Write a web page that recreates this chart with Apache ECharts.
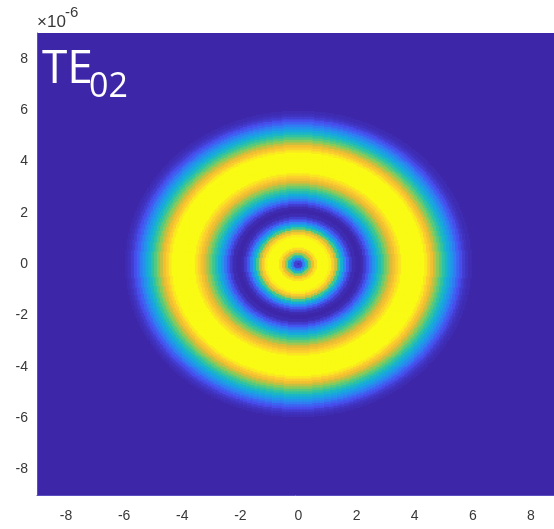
<!DOCTYPE html>
<html>
<head>
<meta charset="utf-8">
<script src="https://cdn.jsdelivr.net/npm/echarts@6/dist/echarts.min.js"></script>
<style>
html,body{margin:0;padding:0;background:#fff;overflow:hidden;}
#chart{width:554px;height:529px;}
</style>
</head>
<body>
<div id="chart"></div>
<script>
// Radial intensity profile of the TE02 mode
// sampled every 0.1 (x1e-6) from r = 0 outward; beyond the last sample the field is 0.
var radiusStep = 0.1;
var radialProfile = [
  0.00, 0.08, 0.25, 0.42, 0.62, 0.78, 0.92, 1.00, 1.00, 1.00,
  1.00, 0.96, 0.85, 0.70, 0.52, 0.38, 0.26, 0.15, 0.07, 0.02,
  0.00, 0.00, 0.02, 0.07, 0.14, 0.22, 0.30, 0.37, 0.44, 0.51,
  0.58, 0.65, 0.73, 0.80, 0.88, 0.94, 1.00, 1.00, 1.00, 1.00,
  1.00, 1.00, 1.00, 1.00, 0.95, 0.87, 0.79, 0.70, 0.62, 0.55,
  0.48, 0.41, 0.35, 0.29, 0.23, 0.17, 0.12, 0.07, 0.04, 0.02,
  0.00
];
// Axis extent and tick labels (x1e-6)
var axisMin = -9, axisMax = 9;
var xTickLabels = [-8, -6, -4, -2, 0, 2, 4, 6, 8];
var yTickLabels = [-8, -6, -4, -2, 0, 2, 4, 6, 8];
// parula colormap
var parula = ['#3E26A8', '#4750EF', '#2D86F4', '#14AFD8', '#35C799', '#8DCB58', '#EBB933', '#FCCF30', '#F9FB15'];

// build cell grid (cell centers), each cell takes the profile sample nearest to its radius
var cellStep = 0.05;
var nCells = Math.round((axisMax - axisMin) / cellStep);
var cellCenters = [];
for (var i = 0; i < nCells; i++) cellCenters.push((axisMin + (i + 0.5) * cellStep).toFixed(3));
var cells = [];
for (var ix = 0; ix < nCells; ix++) {
  for (var iy = 0; iy < nCells; iy++) {
    var x = +cellCenters[ix], y = +cellCenters[iy];
    var k = Math.round(Math.sqrt(x * x + y * y) / radiusStep);
    if (k < radialProfile.length && radialProfile[k] > 0) cells.push([ix, iy, radialProfile[k]]);
  }
}

var chart = echarts.init(document.getElementById('chart'), null, {renderer: 'canvas'});
var fontFam = 'Liberation Sans, Arial, sans-serif';
var labelStyle = {color: '#383838', fontSize: 14, fontFamily: fontFam};
chart.setOption({
  animation: false,
  backgroundColor: '#fff',
  grid: {left: 37, top: 33, width: 523, height: 462, containLabel: false, outerBoundsMode: 'none',
         show: true, backgroundColor: '#3E26A8', borderWidth: 0},
  xAxis: [
    {type: 'category', data: cellCenters, show: false, boundaryGap: true},
    {type: 'value', min: axisMin, max: axisMax, interval: 1, position: 'bottom',
     axisLine: {show: true, onZero: false, lineStyle: {color: '#5b4fbf', width: 1}},
     axisTick: {show: false}, splitLine: {show: false},
     axisLabel: Object.assign({margin: 14, formatter: function (v) { return xTickLabels.indexOf(v) >= 0 ? String(v) : ''; }}, labelStyle)}
  ],
  yAxis: [
    {type: 'category', data: cellCenters, show: false, boundaryGap: true},
    {type: 'value', min: axisMin, max: axisMax, interval: 1, position: 'left',
     axisLine: {show: true, onZero: false, lineStyle: {color: '#5b4fbf', width: 1}},
     axisTick: {show: false}, splitLine: {show: false},
     axisLabel: Object.assign({margin: 9, formatter: function (v) { return yTickLabels.indexOf(v) >= 0 ? String(v) : ''; }}, labelStyle)}
  ],
  visualMap: {
    show: false, type: 'continuous', min: 0, max: 1, dimension: 2, seriesIndex: 0,
    inRange: {color: parula}
  },
  series: [{
    type: 'custom', xAxisIndex: 0, yAxisIndex: 0,
    data: cells, progressive: 0, animation: false, silent: true,
    encode: {x: 0, y: 1},
    clip: true,
    renderItem: function (params, api) {
      var c = api.coord([api.value(0), api.value(1)]);
      var s = api.size([1, 1]);
      return {
        type: 'rect',
        shape: {x: c[0] - s[0] / 2 - 0.4, y: c[1] - s[1] / 2 - 0.4, width: s[0] + 0.8, height: s[1] + 0.8},
        style: {fill: api.visual('color')}
      };
    }
  }],
  graphic: [
    {type: 'text', left: 37, top: 14, style: {text: '×10', fontSize: 17, fill: '#383838', fontFamily: fontFam}},
    {type: 'text', left: 65, top: 5, style: {text: '-6', fontSize: 15, fill: '#383838', fontFamily: fontFam}},
    {type: 'text', left: 42, top: 47, z: 100, style: {text: 'TE', fontSize: 46, fill: '#fff', fontFamily: 'Open Sans, sans-serif'}},
    {type: 'text', left: 89, top: 70, z: 100, style: {text: '02', fontSize: 34, fill: '#fff', fontFamily: 'Open Sans, sans-serif'}}
  ]
});
</script>
</body>
</html>
